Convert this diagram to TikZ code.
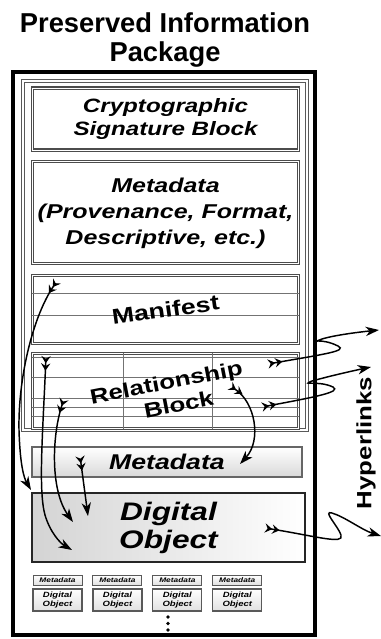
\documentclass[tikz,border=0pt]{standalone}
\usepackage{fontspec}
\setsansfont{Liberation Sans}
\newfontfamily\pipfont[FakeStretch=1.25]{Liberation Sans}
\usepackage{tikz}
\usetikzlibrary{arrows.meta,positioning,calc}

\begin{document}
\begin{tikzpicture}[
    x=0.75pt, y=-0.75pt,
    package/.style={rectangle, draw=black, line width=3pt, minimum width=227pt, minimum height=422pt},
    archive/.style={rectangle, draw=black!65, double=white, double distance=1.6pt, line width=1pt, minimum width=213pt, minimum height=261.75pt},
    block/.style={rectangle, draw=black!70, double=white, double distance=0.6pt, line width=0.9pt, minimum width=200pt, align=center, inner sep=0pt},
    metabar/.style={rectangle, draw=black!60, line width=0.8pt, top color=white, bottom color=black!15, minimum width=202.5pt, minimum height=22.5pt, font=\pipfont\bfseries\itshape\fontsize{16}{18}\selectfont},
    object/.style={rectangle, draw=black!85, line width=1.8pt, left color=black!17, right color=white, minimum width=204.75pt, minimum height=51.75pt, align=center, inner sep=0pt, font=\pipfont\bfseries\itshape\fontsize{19}{21}\selectfont},
    tinymeta/.style={rectangle, draw=black!65, line width=0.7pt, top color=white, bottom color=black!12, minimum width=36.75pt, minimum height=7.5pt, inner sep=0pt, font=\pipfont\bfseries\itshape\fontsize{5}{5}\selectfont},
    tinyobject/.style={rectangle, draw=black!65, line width=0.9pt, top color=white, bottom color=black!12, minimum width=36.75pt, minimum height=16.5pt, inner sep=0pt, align=center, font=\pipfont\bfseries\itshape\fontsize{5.7}{6.5}\selectfont},
    rule/.style={draw=black!55, line width=0.6pt},
    flow/.style={{Stealth[reversed,length=5.5pt,width=7pt,inset=2pt] Stealth[reversed,length=5.5pt,width=7pt,inset=2pt]}-{Stealth[length=10pt,width=7pt,inset=3pt]}, line width=1.1pt}
]
    \useasboundingbox (0,0) rectangle (381,639);

    % Title
    \node[align=center, inner sep=0pt, font=\sffamily\bfseries\fontsize{20.5}{21.5}\selectfont] (title) at (165,40) {Preserved Information\\Package};

    % Package frames
    \node[package] (pip) at (164,353.75) {};
    \node[archive] (archive) at (165,255.5) {};

    % Blocks inside the archive frame
    \node[block, minimum height=46.5pt, font=\pipfont\bfseries\itshape\fontsize{14.5}{17.5}\selectfont] (crypto) at (165.5,119) {Cryptographic\\Signature Block};
    \node[block, minimum height=76.5pt, below=8pt of crypto, font=\pipfont\bfseries\itshape\fontsize{15}{19.5}\selectfont] (meta) {Metadata\\(Provenance, Format,\\Descriptive, etc.)};
    \node[block, minimum height=51pt, below=8pt of meta] (manifest) {};
    \node[block, minimum height=56.25pt, below=6.5pt of manifest] (relation) {};

    % Rulings
    \draw[rule] (manifest.west |- 0,293) -- (manifest.east |- 0,293);
    \draw[rule] (manifest.west |- 0,315) -- (manifest.east |- 0,315);
    \draw[rule] (relation.west |- 0,357) -- (relation.east |- 0,357);
    \draw[rule] (relation.west |- 0,377) -- (relation.east |- 0,377);
    \draw[rule] (relation.west |- 0,398) -- (relation.east |- 0,398);
    \draw[rule] (relation.west |- 0,407) -- (relation.east |- 0,407);
    \draw[rule] (relation.west |- 0,416) -- (relation.east |- 0,416);
    \draw[rule] (relation.north -| 123,0) -- (relation.south -| 123,0);
    \draw[rule] (relation.north -| 212,0) -- (relation.south -| 212,0);

    \node[rotate=8, inner sep=0pt, font=\pipfont\bfseries\fontsize{16}{18}\selectfont] (manifestLabel) at (manifest) {Manifest};
    \node[rotate=11, inner sep=0pt, align=center, font=\pipfont\bfseries\fontsize{15.5}{18}\selectfont] (relationLabel) at ($(relation)+(3,3)$) {Relationship\\\hspace*{12pt}Block};

    % Metadata and digital object
    \node[metabar] (metabar) at (167,462) {Metadata};
    \node[object] (object) at (168.5,527.5) {Digital\\Object};

    % Further objects
    \node[tinymeta] (smeta1) at (57.5,580) {Metadata};
    \node[tinymeta, right=7.5pt of smeta1] (smeta2) {Metadata};
    \node[tinymeta, right=7.5pt of smeta2] (smeta3) {Metadata};
    \node[tinymeta, right=7.5pt of smeta3] (smeta4) {Metadata};
    \node[tinyobject, below=2.2pt of smeta1] (sobj1) {Digital\\Object};
    \node[tinyobject, below=2.2pt of smeta2] (sobj2) {Digital\\Object};
    \node[tinyobject, below=2.2pt of smeta3] (sobj3) {Digital\\Object};
    \node[tinyobject, below=2.2pt of smeta4] (sobj4) {Digital\\Object};
    \fill (168,617) circle (1.4pt);
    \fill (168,623.5) circle (1.4pt);
    \fill (168,630) circle (1.4pt);

    % Hyperlinks label
    \node[rotate=90, inner sep=0pt, font=\pipfont\bfseries\fontsize{15.5}{16}\selectfont] (hyper) at (366,443) {Hyperlinks};

    % Link ends
    \coordinate (mfTail) at (57,281);
    \coordinate (rbTailA) at (46,356);
    \coordinate (rbTailB) at (64,399);
    \coordinate (rbTailC) at (230,386);
    \coordinate (rbTailD) at (268,364);
    \coordinate (rbTailE) at (262,407);
    \coordinate (mbTail) at (80,456);
    \coordinate (doTail) at (265,528);
    \coordinate (doHeadA) at (31,490);
    \coordinate (doHeadB) at (72,550);
    \coordinate (doHeadC) at (73,522);
    \coordinate (doHeadD) at (88,516);
    \coordinate (mbHead) at (240,464);
    \coordinate (hlHeadA) at (379,330);
    \coordinate (hlHeadB) at (371,367);
    \coordinate (hlHeadC) at (381,536);

    % Internal links
    \draw[flow] (mfTail) .. controls (32,318) and (18,380) .. (19,430) .. controls (20,465) and (24,478) .. (doHeadA);
    \draw[flow] (rbTailA) .. controls (43,430) and (38,490) .. (45,515) .. controls (50,532) and (60,543) .. (doHeadB);
    \draw[flow] (rbTailB) .. controls (52,435) and (50,490) .. (doHeadC);
    \draw[flow] (mbTail) -- (doHeadD);
    \draw[flow] (rbTailC) .. controls (255,402) and (262,440) .. (mbHead);

    % External links
    \draw[flow] (rbTailD) .. controls (325,354) and (348,351) .. (338,346) .. controls (320,337) and (310,344) .. (322,339) .. controls (335,335) and (360,332) .. (hlHeadA);
    \draw[flow] (rbTailE) .. controls (315,397) and (342,392) .. (333,387) .. controls (318,380) and (300,386) .. (312,381) .. controls (330,376) and (352,371) .. (hlHeadB);
    \draw[flow] (doTail) .. controls (315,536) and (345,545) .. (341,535) .. controls (338,526) and (322,510) .. (332,513) .. controls (345,517) and (362,530) .. (hlHeadC);
\end{tikzpicture}
\end{document}
